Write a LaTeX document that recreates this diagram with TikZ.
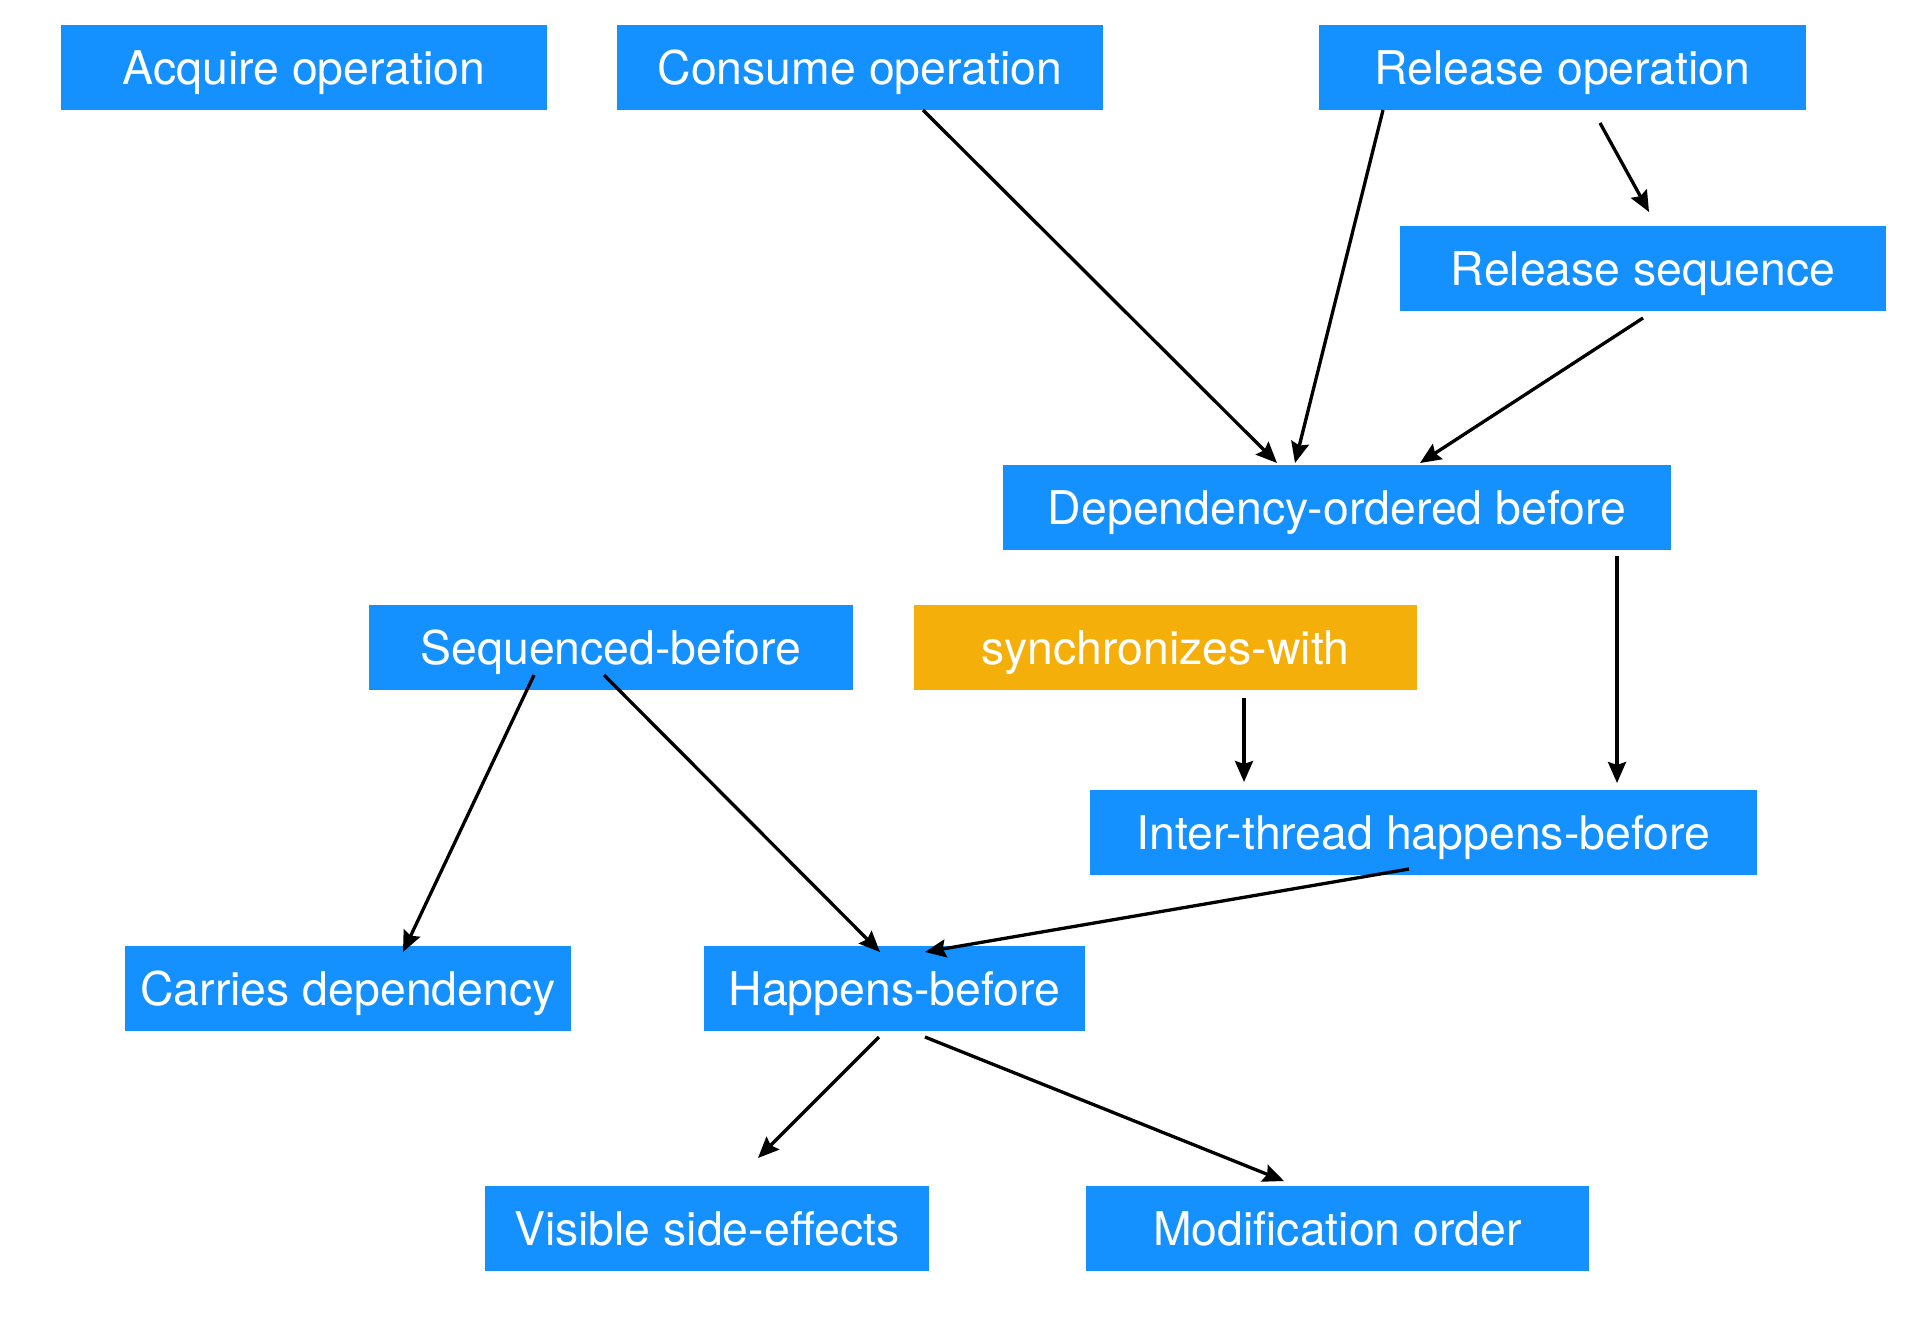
\documentclass[tikz,border=0pt]{standalone}
\usepackage{fontspec}
\setmainfont{TeX Gyre Heros}
\usetikzlibrary{arrows.meta,calc}
\definecolor{boxblue}{RGB}{20,145,255}
\definecolor{boxorange}{RGB}{245,175,10}
\begin{document}
\begin{tikzpicture}[x=0.5pt,y=-0.5pt,
  box/.style={fill=boxblue, text=white, minimum height=42.5pt, inner sep=0pt, outer sep=0pt,
              font=\fontsize{23.2}{27}\selectfont, text height=16.6pt, text depth=0pt, anchor=center},
  orangebox/.style={box, fill=boxorange},
  arr/.style={draw=black, line width=1.65pt, -{Stealth[length=10.5pt,width=9pt,inset=1.5pt]}}]
\useasboundingbox (0,0) rectangle (1920,1324);
\fill[white] (0,0) rectangle (1920,1324);

\node[box, minimum width=243pt]   (acq)    at (304,67.5)    {Acquire operation};
\node[box, minimum width=243pt]   (cons)   at (860,67.5)    {Consume operation};
\node[box, minimum width=243.5pt] (rel)    at (1562.5,67.5) {Release operation};
\node[box, minimum width=243pt]   (relseq) at (1643,268.5)  {Release sequence};
\node[box, minimum width=334pt]   (dep)    at (1337,507.5)  {Dependency-ordered before};
\node[box, minimum width=242pt]   (seq)    at (611,647.5)   {Sequenced-before};
\node[orangebox, minimum width=251.5pt] (sync) at (1165.5,647.5) {synchronizes-with};
\node[box, minimum width=333.5pt] (inter)  at (1423.5,832.5) {Inter-thread happens-before};
\node[box, minimum width=223pt]   (carr)   at (348,988.5)   {Carries dependency};
\node[box, minimum width=190.5pt] (hb)     at (894.5,988.5) {Happens-before};
\node[box, minimum width=222pt]   (vis)    at (707,1228.5)  {Visible side-effects};
\node[box, minimum width=251.5pt] (mod)    at (1337.5,1228.5) {Modification order};

\draw[arr] ($(cons.south)+(63,0)$)      -- ($(dep.north)+(-60,-2)$);
\draw[arr] ($(rel.south)+(-179.5,0)$)   -- ($(dep.north)+(-42,-2)$);
\draw[arr] ($(rel.south)+(37.5,13)$)    -- ($(relseq.north)+(6,-14)$);
\draw[arr] ($(relseq.south)+(0,7)$)     -- ($(dep.north)+(83,-2)$);
\draw[arr] ($(dep.south)+(280,6)$)      -- ($(inter.north)+(193.5,-7)$);
\draw[arr] ($(sync.south)+(78.5,8)$)    -- ($(inter.north)+(-179.5,-8)$);
\draw[arr] ($(seq.south)+(-77,-15)$)    -- ($(carr.north)+(55,6)$);
\draw[arr] ($(seq.south)+(-7,-15)$)     -- ($(hb.north)+(-14.5,6)$);
\draw[arr] ($(inter.south)+(-14.5,-6)$) -- ($(hb.north)+(30.5,6)$);
\draw[arr] ($(hb.south)+(-15.5,6)$)     -- ($(vis.north)+(51,-28)$);
\draw[arr] ($(hb.south)+(30.5,6)$)      -- ($(mod.north)+(-53.5,-5)$);
\end{tikzpicture}
\end{document}
